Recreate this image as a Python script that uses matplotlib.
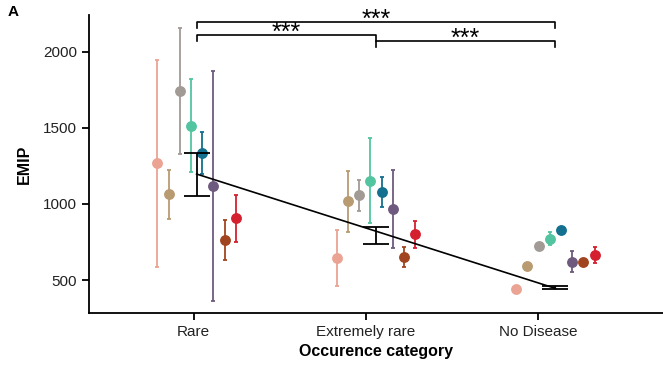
import numpy as np
import matplotlib
matplotlib.use("Agg")
import matplotlib.pyplot as plt

plt.rcParams['font.family'] = ['Liberation Sans', 'DejaVu Sans']

categories = ["Rare", "Extremely rare", "No Disease"]
colors = ["#EBA493", "#B99B72", "#A19A95", "#52C4A0",
          "#13708F", "#6E5A7E", "#A0451F", "#D5202F"]

# per series: mean, low, high for [Rare, Extremely rare, No Disease]
means = [
    [1268, 647, 439],
    [1064, 1020, 594],
    [1743, 1057, 724],
    [1515, 1153, 770],
    [1334, 1081, 827],
    [1120, 967, 620],
    [763, 653, 618],
    [906, 801, 664],
]
lows = [
    [584, 462, 439],
    [901, 818, 594],
    [1327, 956, 724],
    [1209, 877, 730],
    [1197, 982, 827],
    [364, 712, 551],
    [634, 584, 618],
    [748, 711, 614],
]
highs = [
    [1947, 829, 439],
    [1224, 1219, 594],
    [2160, 1158, 724],
    [1822, 1434, 814],
    [1472, 1176, 827],
    [1877, 1224, 691],
    [893, 718, 618],
    [1057, 890, 715],
]

# overall estimate per category
est_low = [1051, 737, 439]
est_high = [1334, 851, 461]
trend_ends = [1197, 445]

# significance comparisons (from, to, label)
comparisons = [(0, 2, "***"), (0, 1, "***"), (1, 2, "***")]

fig = plt.figure(figsize=(6.63, 3.66), dpi=100)
ax = fig.add_axes([0.1342, 0.1448, 0.8658, 0.8142])

xs = np.arange(1, len(categories) + 1)
step = 0.0624
n = len(colors)
for i, c in enumerate(colors):
    x = xs + (i - (n - 1) / 2) * step
    m = np.array(means[i])
    err = [m - np.array(lows[i]), np.array(highs[i]) - m]
    ax.errorbar(x, m, yerr=err, fmt='o', color=c, ms=6.8, elinewidth=1.3,
                capsize=1.4, capthick=1.3, zorder=2)

est_mid = (np.array(est_low) + np.array(est_high)) / 2
ax.errorbar(xs, est_mid, yerr=[est_mid - est_low, est_high - est_mid], fmt='none',
            ecolor='black', elinewidth=1.3, capsize=9.5, capthick=1.3, zorder=3)
ax.plot([xs[0], xs[-1]], trend_ends, color='black', lw=1.2, zorder=4)

# brackets
levels = [2195, 2112, 2072]
leg = 39
for (a, b, lab), y in zip(comparisons, levels):
    ax.plot([xs[a], xs[a], xs[b], xs[b]], [y - leg, y, y, y - leg],
            color='black', lw=1.2, clip_on=False, zorder=5)
    ax.text((xs[a] + xs[b]) / 2, y - 32, lab, ha='center', va='baseline',
            fontsize=18, clip_on=False)

ax.set_xlim(0.4, 3.6)
ax.set_ylim(283, 2243)
ax.set_yticks([500, 1000, 1500, 2000])
tick_shift = [-0.016, -0.055, -0.096]
ax.set_xticks(xs + np.array(tick_shift))
ax.set_xticklabels(categories)
ax.tick_params(labelsize=11, width=1.3, length=5, color='black', labelcolor='#222222')
ax.set_xlabel("Occurence category", fontsize=11.5, fontweight='bold', labelpad=4)
ax.set_ylabel("EMIP", fontsize=11.5, fontweight='bold', labelpad=8)
for s in ['top', 'right']:
    ax.spines[s].set_visible(False)
for s in ['left', 'bottom']:
    ax.spines[s].set_linewidth(1.3)

fig.text(0.012, 0.985, "A", fontsize=11, fontweight='bold', va='top')

fig.savefig("out.png", dpi=100)
